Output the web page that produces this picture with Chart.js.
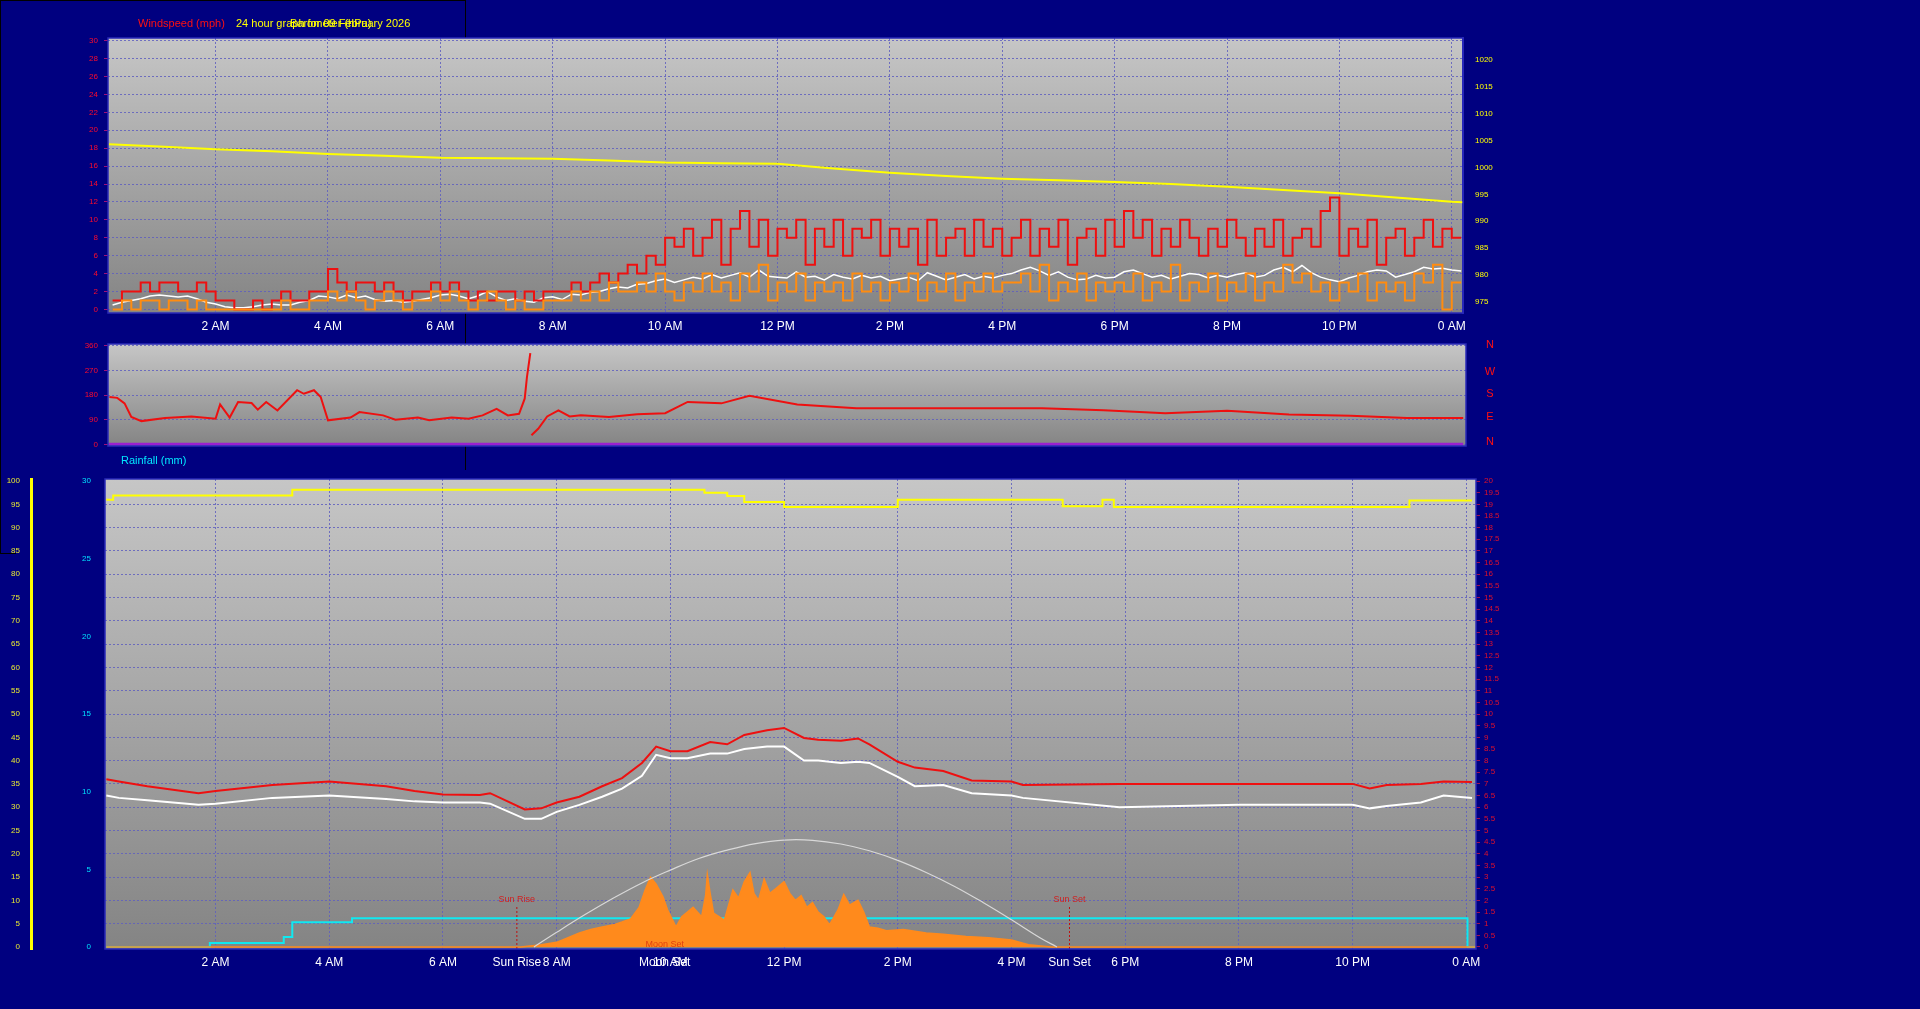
<!DOCTYPE html>
<html><head><meta charset="utf-8">
<script src="https://cdn.jsdelivr.net/npm/chart.js@4"></script>
<style>
html,body{margin:0;padding:0;background:#000080;width:1920px;height:1009px;overflow:hidden;font-family:"Liberation Sans",Arial,sans-serif}
canvas{position:absolute;left:0;top:0}
.t{position:absolute;font-size:11px;white-space:nowrap;line-height:12px}
.bl{position:absolute;background:#000}
</style></head><body>
<div class="bl" style="left:0;top:0;width:466px;height:1px"></div>
<div class="bl" style="left:465px;top:0;width:1px;height:470px"></div>
<div class="bl" style="left:0;top:0;width:1px;height:554px"></div>
<div class="bl" style="left:0;top:553px;width:16px;height:1px"></div>
<canvas id="c1" width="1920" height="1009"></canvas>
<canvas id="c2" width="1920" height="1009"></canvas>
<canvas id="c3" width="1920" height="1009"></canvas>
<div class="t" style="left:138px;top:17px;color:#ff1010">Windspeed (mph)</div>
<div class="t" style="left:236px;top:17px;color:#ffff00">24 hour graph for 09 February 2026</div>
<div class="t" style="left:290px;top:17px;color:#ffff00">Barometer (hPa)</div>
<div class="t" style="left:121px;top:454px;color:#00e8ff">Rainfall (mm)</div>
<script>
// ---------- data ----------
const hourTicks = [2,4,6,8,10,12,14,16,18,20,22,24];
const hourLabels = ["2 AM","4 AM","6 AM","8 AM","10 AM","12 PM","2 PM","4 PM","6 PM","8 PM","10 PM","0 AM"];
const eventTimes = [7.3, 9.9, 17.02];
const eventLabels = ["Sun Rise","Moon Set","Sun Set"];
const windTicks = [0,2,4,6,8,10,12,14,16,18,20,22,24,26,28,30];
const pressTicks = [975,980,985,990,995,1000,1005,1010,1015,1020];
const dirTicks = [0,90,180,270,360];
const humTicks = [0,5,10,15,20,25,30,35,40,45,50,55,60,65,70,75,80,85,90,95,100];
const rainTicks = [0,5,10,15,20,25,30];
const tempTicks = [0,0.5,1,1.5,2,2.5,3,3.5,4,4.5,5,5.5,6,6.5,7,7.5,8,8.5,9,9.5,10,10.5,11,11.5,12,12.5,13,13.5,14,14.5,15,15.5,16,16.5,17,17.5,18,18.5,19,19.5,20];

const WIND_START = 10/60, WIND_STEP = 1/6;
const windGust = [1,2,2,3,2,3,3,2,2,3,2,1, 1,0,0,1,0,1,2,1,1,2,2,4.5, 3,2,3,3,2,3,2,1,2,2,3,2,
 3,2,1,2,1,2,2,1,2,1,2,2, 2,3,2,3,4,3,4,5,4,6,5,8, 7,9,6,8,10,5,9,11,7,10,6,9,
 8,10,5,9,7,10,6,9,8,10,6,9, 7,9,5,10,6,8,9,6,10,7,9,6, 8,10,6,9,7,10,5,8,9,6,10,7,
 11,8,10,6,9,7,10,8,6,9,7,10, 8,6,9,7,10,6,8,9,7,11,12.5,6, 9,7,10,5,8,9,6,8,10,7,9,8, 8];
const windAvg = [0.5,0.8,1,1.2,1.5,1.6,1.5,1.4,1.5,1.2,0.8,0.6, 0.3,0.2,0.2,0.3,0.5,0.6,0.5,0.5,0.8,1,1.5,1.4,
 1.2,1.6,1.3,1.5,1.1,0.9,1,0.8,0.9,1.1,1.3,1.6, 1.7,1.5,1.2,1.5,2,1.4,1,1.2,0.9,0.8,1.3,1.4,
 1.1,1.7,1.6,1.9,2,2.3,2.5,2.4,2.8,2.9,3.2,3.4, 3,3.3,3.6,3.4,3.9,3.5,3.8,4.1,3.6,4.4,3.7,3.6,
 3.5,4.2,3.6,3.7,3.3,3.9,3.6,3.4,3.8,3.5,3.7,3.2, 3.4,3.6,3.2,4.1,3.7,3.3,3.6,3.9,3.4,3.7,3.5,3.8,
 4,4.4,4.7,4.3,3.8,4.2,3.6,3.3,3.4,3.8,3.5,3.6, 4.2,4.4,4,3.6,3.8,3.4,3.7,4,3.9,3.5,3.8,3.6,
 3.9,4.1,3.6,3.8,4.4,4.7,4.2,4.9,4.1,3.6,3.3,3.1, 3.5,3.8,4.2,4.4,4.3,3.6,3.9,4.2,4.7,4.5,4.6,4.4, 4.3];
const windSpeed = [0,1,0,1,1,0,1,1,0,1,0,0, 0,0,0,0,0,0,1,0,0,1,1,2, 1,2,1,0,1,2,1,0,1,1,2,1,
 2,1,0,1,2,1,0,1,0,0,1,1, 1,2,1,2,1,3,2,2,3,2,4,2, 1,3,2,4,2,3,1,4,2,5,1,3,
 2,4,1,3,2,3,1,4,2,3,1,3, 2,4,1,3,2,4,1,3,2,4,2,3, 3,4,2,5,1,3,2,4,1,3,2,3,
 2,4,1,3,2,5,1,3,2,4,1,3, 2,4,1,3,2,5,3,4,2,3,1,3, 2,4,1,3,2,3,1,4,3,5,0,3, 3];

const pressTimes = [0.1,1,2,3,4,5,6,7,8,9,10,11,12,13,14,15,16,17,18,19,20,21,22,23,24,24.2];
const pressure = [1004.3,1003.9,1003.4,1003.0,1002.5,1002.2,1001.8,1001.7,1001.6,1001.3,1000.9,1000.8,1000.7,999.8,999.0,998.4,997.9,997.6,997.3,996.9,996.4,995.8,995.2,994.4,993.6,993.5];

const dirTimes = [0.11,0.25,0.38,0.5,0.68,1.1,1.57,2.0,2.08,2.25,2.4,2.64,2.75,2.9,3.1,3.45,3.57,3.75,3.87,4.0,4.4,4.56,4.98,5.2,5.6,5.8,6.2,6.5,6.75,7.0,7.2,7.4,7.5,7.54,7.6,7.61,7.62,7.74,7.9,8.1,8.3,8.5,9.0,9.5,10.0,10.4,11.0,11.5,12.35,13.4,14.3,15.6,16.7,17.8,18.9,20.0,21.1,22.2,23.2,24.2];
const windDir = [173,170,150,100,85,96,102,94,146,98,155,151,127,155,124,198,185,198,173,88,98,118,106,90,98,88,98,94,106,130,106,112,167,246,334,null,33,57,102,124,102,106,100,110,114,155,150,178,146,132,132,132,132,125,114,123,109,105,96,96];
const rainRateTimes = [0.1,24.2];
const rainRate = [0,0];

const tempTimes = [0.08,0.3,0.8,1.7,2.0,3,4,5,5.5,6,6.65,6.83,7.44,7.73,8,8.4,8.8,9.15,9.5,9.75,10,10.3,10.7,11,11.3,11.7,12,12.35,12.6,13,13.3,13.5,14,14.3,14.8,15.3,16,16.2,17.9,20,22,22.3,22.6,23.2,23.6,24.1];
const temperature = [7.2,7.1,6.9,6.6,6.7,6.95,7.1,6.9,6.7,6.55,6.52,6.6,5.9,5.95,6.2,6.45,6.9,7.25,7.9,8.6,8.4,8.4,8.8,8.7,9.1,9.3,9.4,8.97,8.9,8.85,8.95,8.7,7.95,7.7,7.55,7.15,7.1,6.95,7.0,7.0,7.0,6.8,6.95,7.0,7.1,7.08];
const dewPoint = [6.5,6.4,6.3,6.1,6.15,6.4,6.5,6.35,6.25,6.2,6.2,6.15,5.5,5.5,5.8,6.1,6.45,6.8,7.35,8.25,8.1,8.1,8.3,8.3,8.5,8.6,8.6,8.0,8.0,7.9,7.95,7.9,7.3,6.9,6.95,6.6,6.5,6.4,6.0,6.1,6.1,5.95,6.05,6.2,6.5,6.4];
const humTimes = [0.08,0.2,3.35,10.6,11.0,11.3,12.0,14.0,16.9,17.6,17.8,23.0,24.1];
const humidity = [96.0,96.9,98.1,97.5,96.8,95.5,94.4,96.0,94.6,96.0,94.4,95.8,95.8];
const rainTimes = [0.08,1.9,3.2,3.35,4.4,24.0,24.02,24.17];
const rainfall = [0,0.25,0.65,1.6,1.85,1.85,0,0];
const solarTimes = [0.08,7.37,7.73,8.0,8.2,8.4,8.6,8.8,9.0,9.15,9.3,9.45,9.55,9.65,9.75,9.87,9.95,10.1,10.2,10.3,10.4,10.55,10.62,10.65,10.7,10.76,10.95,11.1,11.2,11.3,11.4,11.47,11.55,11.65,11.75,11.85,12.0,12.1,12.2,12.3,12.4,12.5,12.6,12.7,12.8,12.95,13.05,13.15,13.3,13.4,13.5,13.65,13.8,14.1,14.5,14.8,15.2,15.6,16.0,16.3,16.7,24.17];
const solar = [0,0,0.1,0.2,0.4,0.6,0.75,0.86,0.95,1.07,1.2,1.7,2.4,3.0,2.7,2.15,1.6,0.86,1.3,1.5,1.7,1.3,2.2,3.1,2.3,1.45,1.15,2.45,2.1,2.8,3.2,2.3,2.0,2.9,2.3,2.5,2.8,2.3,2.0,2.2,1.7,1.9,1.5,1.3,0.95,1.6,2.25,1.8,2.0,1.5,0.86,0.8,0.7,0.75,0.6,0.55,0.45,0.4,0.3,0.1,0,0];
const solarMaxTimes = [7.6,8,8.5,9,9.5,10,10.5,11,11.5,12,12.5,13,13.5,14,14.5,15,15.5,16,16.5,16.8];
const solarMax = [0,0.63,1.39,2.1,2.75,3.3,3.8,4.16,4.44,4.59,4.58,4.42,4.13,3.72,3.2,2.6,1.91,1.17,0.4,0];

// ---------- helpers ----------
const pts = (t, v) => t.map((x, i) => ({x, y: v[i]}));
const windTimes = windGust.map((_, i) => WIND_START + i * WIND_STEP);
const FONT = '"Liberation Sans", Arial, sans-serif';
const GRID = 'rgba(95,95,190,0.85)';
const fixW = w => function(s){ s.width = w; };
const fixH = h => function(s){ s.height = h; };
const setTicks = arr => s => { s.ticks = arr.map(v => ({value: v})); };
const plain = v => String(v);
const hourLabel = v => { const i = hourTicks.indexOf(v); if (i >= 0) return hourLabels[i]; const j = eventTimes.indexOf(v); return j >= 0 ? eventLabels[j] : ''; };

const bgPlugin = {
  id: 'bg',
  beforeDraw(chart) {
    const a = chart.chartArea, c = chart.ctx;
    const g = c.createLinearGradient(0, a.top, 0, a.bottom);
    g.addColorStop(0, '#c6c6c6'); g.addColorStop(1, '#848484');
    c.save(); c.fillStyle = g; c.fillRect(a.left, a.top, a.right - a.left, a.bottom - a.top); c.restore();
  },
  afterDraw(chart) {
    const a = chart.chartArea, c = chart.ctx;
    c.save(); c.strokeStyle = '#2a2ab8'; c.lineWidth = 1.5;
    c.strokeRect(a.left, a.top, a.right - a.left, a.bottom - a.top); c.restore();
  }
};

const xAxis = (min, max, show) => ({
  type: 'linear', min, max, afterFit: fixH(30),
  afterBuildTicks: setTicks(hourTicks.concat(show === 2 ? eventTimes : [])),
  ticks: {autoSkip: false, maxRotation: 0, color: '#ffffff', font: {family: FONT, size: 12}, padding: 6, callback: hourLabel},
  grid: {color: c => (c.tick && eventTimes.includes(c.tick.value)) ? 'rgba(0,0,0,0)' : GRID, drawTicks: false},
  border: {display: false, dash: [2, 2]}
});
Chart.defaults.animation = false;
Chart.defaults.plugins.legend.display = false;
Chart.defaults.plugins.tooltip.enabled = false;
Chart.defaults.elements.point.radius = 0;

// ---------- top: wind & pressure ----------
new Chart(document.getElementById('c1'), {
  type: 'line',
  data: {datasets: [
    {data: pts(pressTimes, pressure), yAxisID: 'yP', borderColor: '#ffff00', borderWidth: 2},
    {data: pts(windTimes, windSpeed), yAxisID: 'y', borderColor: '#ff8c10', borderWidth: 2, stepped: true},
    {data: pts(windTimes, windGust), yAxisID: 'y', borderColor: '#ee1010', borderWidth: 2, stepped: true},
    {data: pts(windTimes, windAvg), yAxisID: 'y', borderColor: '#ffffff', borderWidth: 1.5}
  ]},
  options: {
    responsive: false, layout: {padding: {left: 0, top: 38, right: 397, bottom: 1009 - 313 - 30}},
    scales: {
      x: xAxis(0.085, 24.2, 1),
      y: {position: 'left', min: -0.4, max: 30.3, afterFit: fixW(108), afterBuildTicks: setTicks(windTicks),
          ticks: {color: '#ff0a2a', font: {family: FONT, size: 8}, padding: 6, callback: plain},
          grid: {color: GRID, drawTicks: true, tickLength: 4, tickColor: '#a0107a'}, border: {display: false, dash: [2, 2]}},
      yP: {position: 'right', min: 972.9, max: 1024.1, afterFit: fixW(60), afterBuildTicks: setTicks(pressTicks),
          ticks: {color: '#ffff00', font: {family: FONT, size: 8}, padding: 4, callback: plain},
          grid: {display: false}, border: {display: true, color: '#2020c0', width: 2}}
    }
  },
  plugins: [bgPlugin]
});

// ---------- middle: wind direction ----------
new Chart(document.getElementById('c2'), {
  type: 'line',
  data: {datasets: [
    {data: pts(rainRateTimes, rainRate), borderColor: '#9a20d0', borderWidth: 3},
    {data: pts(dirTimes, windDir), borderColor: '#ee1010', borderWidth: 2, spanGaps: false}
  ]},
  options: {
    responsive: false, layout: {padding: {left: 0, top: 344, right: 394, bottom: 1009 - 446}},
    scales: {
      x: {type: 'linear', min: 0.085, max: 24.25, display: false},
      y: {position: 'left', min: -6, max: 367, afterFit: fixW(108), afterBuildTicks: setTicks(dirTicks),
          ticks: {color: '#ff0a2a', font: {family: FONT, size: 8}, padding: 6, callback: plain},
          grid: {color: GRID, drawTicks: true, tickLength: 4, tickColor: '#a0107a'}, border: {display: false, dash: [2, 2]}},
      yR: {position: 'right', min: -6, max: 367, afterFit: fixW(60), ticks: {display: false}, grid: {display: false}, border: {display: false}}
    }
  },
  plugins: [bgPlugin, {
    id: 'compass',
    afterDraw(chart) {
      const c = chart.ctx; c.save(); c.fillStyle = '#ff1010'; c.font = '11px ' + FONT; c.textAlign = 'center'; c.textBaseline = 'middle';
      [['N',345],['W',372],['S',394],['E',417],['N',442]].forEach(([t, y]) => c.fillText(t, 1490, y));
      c.restore();
    }
  }]
});

// ---------- bottom: temperature, humidity, rain, solar ----------
new Chart(document.getElementById('c3'), {
  type: 'line',
  data: {datasets: [
    {data: pts(humTimes, humidity), yAxisID: 'yH', borderColor: '#ffff00', borderWidth: 2, stepped: true},
    {data: pts(solarMaxTimes, solarMax), yAxisID: 'yT', borderColor: '#d8d8d8', borderWidth: 1.2, tension: 0.4},
    {data: pts(solarTimes, solar), yAxisID: 'yT', borderColor: '#ff8a1c', backgroundColor: '#ff8a1c', borderWidth: 1.5, fill: 'origin'},
    {data: pts(rainTimes, rainfall), yAxisID: 'yRain', borderColor: '#10e8f0', borderWidth: 2, stepped: true},
    {data: pts(tempTimes, dewPoint), yAxisID: 'yT', borderColor: '#ffffff', borderWidth: 2},
    {data: pts(tempTimes, temperature), yAxisID: 'yT', borderColor: '#ee1010', borderWidth: 2}
  ]},
  options: {
    responsive: false, layout: {padding: {left: 0, top: 479, right: 384, bottom: 1009 - 949 - 30}},
    scales: {
      x: xAxis(0.056, 24.17, 2),
      yH: {position: 'left', weight: 2, min: -0.43, max: 100.43, afterFit: fixW(31), afterBuildTicks: setTicks(humTicks),
           ticks: {color: '#e8e830', font: {family: FONT, size: 8}, padding: 3, callback: plain},
           grid: {display: false, drawOnChartArea: false}, border: {display: true, color: '#ffff00', width: 3}},
      yRain: {position: 'left', weight: 1, min: -0.13, max: 30.13, afterFit: fixW(74), afterBuildTicks: setTicks(rainTicks),
           ticks: {color: '#00e0ff', font: {family: FONT, size: 8}, padding: 6, callback: plain},
           grid: {display: false}, border: {display: false}},
      yT: {position: 'right', min: -0.086, max: 20.086, afterFit: fixW(60), afterBuildTicks: setTicks(tempTicks),
           ticks: {autoSkip: false, color: '#e0102a', font: {family: FONT, size: 8}, padding: 4, callback: plain},
           grid: {color: c => (c.tick && Number.isInteger(c.tick.value) && c.tick.value > 0 && c.tick.value < 20) ? GRID : 'rgba(0,0,0,0)', drawTicks: true, tickLength: 4, tickColor: '#a01050'},
           border: {display: false, dash: [2, 2]}}
    }
  },
  plugins: [bgPlugin, {
    id: 'events',
    afterDatasetsDraw(chart) {
      const c = chart.ctx, x = chart.scales.x, a = chart.chartArea;
      c.save(); c.font = '9px ' + FONT; c.textAlign = 'center';
      [0, 2].forEach(i => {
        const px = x.getPixelForValue(eventTimes[i]);
        c.strokeStyle = '#c01010'; c.setLineDash([2, 2]); c.lineWidth = 1;
        c.beginPath(); c.moveTo(px, a.bottom); c.lineTo(px, a.bottom - 44); c.stroke();
        c.fillStyle = '#d02020'; c.fillText(eventLabels[i], px, a.bottom - 47);
      });
      c.fillStyle = '#e04010'; c.fillText(eventLabels[1], x.getPixelForValue(eventTimes[1]), a.bottom - 2);
      c.restore();
    }
  }]
});
</script>
</body></html>
